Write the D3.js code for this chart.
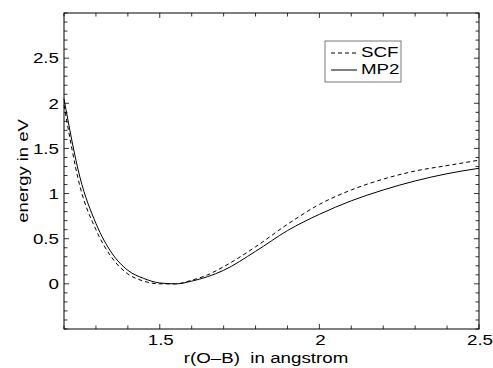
<!DOCTYPE html>
<html><head><meta charset="utf-8">
<script src="https://cdn.jsdelivr.net/npm/d3@7"></script>
<style>body{margin:0;background:#fff}svg{display:block}text{font-family:"Liberation Sans",Arial,sans-serif;fill:#000}</style>
</head><body><svg id="c" width="493" height="368"></svg>
<script>
const rValues = [1.2, 1.25, 1.3, 1.35, 1.4, 1.45, 1.5, 1.55, 1.6, 1.65, 1.7, 1.8, 1.9, 2.0, 2.1, 2.2, 2.3, 2.4, 2.5];
const scfValues = [1.98, 1.08, 0.60, 0.29, 0.11, 0.03, 0.0, 0.0, 0.04, 0.10, 0.19, 0.41, 0.66, 0.88, 1.04, 1.16, 1.25, 1.31, 1.37];
const mp2Values = [2.05, 1.18, 0.67, 0.34, 0.15, 0.06, 0.01, 0.0, 0.03, 0.08, 0.15, 0.36, 0.59, 0.77, 0.92, 1.04, 1.14, 1.22, 1.28];
const xTickLabels = [1.5, 2, 2.5];
const yTickLabels = [0, 0.5, 1, 1.5, 2, 2.5];
const seriesNames = ["SCF", "MP2"];

const svg = d3.select("#c");
const L = 64, R = 479, T = 13, B = 329;
const SX = 1.25; // horizontal stretch of the original lettering
const x = d3.scaleLinear().domain([1.2, 2.5]).range([L, R]);
const y = d3.scaleLinear().domain([-0.5, 3.0]).range([B, T]);

// ticks on all four sides (major every 0.5, minor every 0.1)
const xMinor = d3.range(12, 26).map(d => d / 10);
const yMinor = d3.range(-5, 31).map(d => d / 10);
const g = svg.append("g").attr("stroke", "#000").attr("stroke-width", 0.8);
xMinor.forEach(v => {
  const len = xTickLabels.includes(v) ? 5 : 3.5;
  g.append("line").attr("x1", x(v)).attr("x2", x(v)).attr("y1", B).attr("y2", B - len);
  g.append("line").attr("x1", x(v)).attr("x2", x(v)).attr("y1", T).attr("y2", T + len);
});
yMinor.forEach(v => {
  const len = yTickLabels.includes(v) ? 5 : 3.5;
  g.append("line").attr("y1", y(v)).attr("y2", y(v)).attr("x1", L).attr("x2", L + len);
  g.append("line").attr("y1", y(v)).attr("y2", y(v)).attr("x1", R).attr("x2", R - len);
});

// frame
svg.append("rect").attr("x", L).attr("y", T).attr("width", R - L).attr("height", B - T)
  .attr("fill", "none").attr("stroke", "#000").attr("stroke-width", 1);

// tick labels
svg.selectAll(".xt").data(xTickLabels).enter().append("text")
  .attr("transform", d => `translate(${x(d) + 1},345) scale(${SX},1)`)
  .attr("text-anchor", "middle").attr("font-size", 15).text(d => d);
svg.selectAll(".yt").data(yTickLabels).enter().append("text")
  .attr("transform", d => `translate(59,${y(d) + 5.3}) scale(${SX},1)`)
  .attr("text-anchor", "end").attr("font-size", 15).text(d => d);

// axis titles
svg.append("text").attr("transform", `translate(266,363) scale(${SX},1)`)
  .attr("text-anchor", "middle").attr("font-size", 15)
  .style("white-space", "pre").text("r(O\u2013B)  in angstrom");
svg.append("text").attr("transform", "translate(28,171) rotate(-90) scale(1.27,1)")
  .attr("text-anchor", "middle").attr("font-size", 14.5).text("energy in eV");

// curves
const line = d3.line().x(d => x(d[0])).y(d => y(d[1])).curve(d3.curveMonotoneX);
svg.append("path").datum(rValues.map((r, i) => [r, scfValues[i]]))
  .attr("d", line).attr("fill", "none").attr("stroke", "#000").attr("stroke-width", 1)
  .attr("stroke-dasharray", "4,3");
svg.append("path").datum(rValues.map((r, i) => [r, mp2Values[i]]))
  .attr("d", line).attr("fill", "none").attr("stroke", "#000").attr("stroke-width", 1);

// legend
const lg = svg.append("g");
lg.append("rect").attr("x", 325).attr("y", 41).attr("width", 76).attr("height", 41)
  .attr("fill", "#fff").attr("stroke", "#555").attr("stroke-width", 0.8);
lg.append("line").attr("x1", 331).attr("x2", 357).attr("y1", 53).attr("y2", 53)
  .attr("stroke", "#000").attr("stroke-dasharray", "4,3");
lg.append("line").attr("x1", 331).attr("x2", 357).attr("y1", 70).attr("y2", 70)
  .attr("stroke", "#000");
lg.append("text").attr("transform", `translate(361,57.3) scale(${SX},1)`)
  .attr("font-size", 15).text(seriesNames[0]);
lg.append("text").attr("transform", `translate(361,74) scale(${SX},1)`)
  .attr("font-size", 15).text(seriesNames[1]);
</script></body></html>
